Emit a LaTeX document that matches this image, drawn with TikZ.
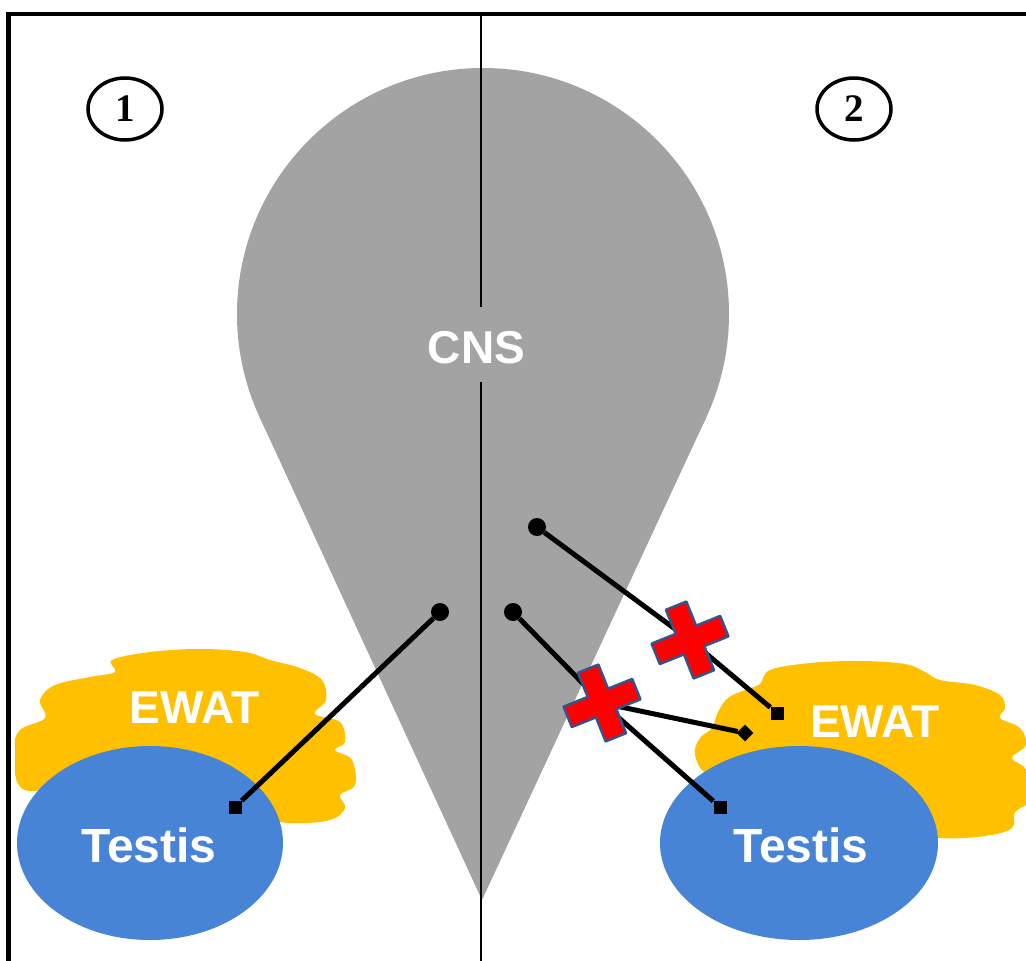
\documentclass[tikz,border=0pt]{standalone}
\usepackage{fontspec}
\newfontfamily\lsans{Liberation Sans}
\newfontfamily\lserif{Liberation Serif}
\usetikzlibrary{shapes.geometric}
\definecolor{cnsgray}{RGB}{163,163,163}
\definecolor{ewatc}{RGB}{255,192,0}
\definecolor{testisc}{RGB}{72,132,214}
\definecolor{xblue}{RGB}{52,84,140}
\tikzset{
  lab/.style={text=white, font=\lsans\bfseries\fontsize{46}{50}\selectfont, inner sep=0pt, anchor=base},
  tlab/.style={lab, font=\lsans\bfseries\fontsize{48}{52}\selectfont},
  num/.style={draw, ellipse, line width=3.5pt, minimum width=74pt, minimum height=62pt, inner sep=0pt,
              font=\lserif\bfseries\fontsize{39}{42}\selectfont},
  enddot/.style={circle, fill=black, minimum size=18pt, inner sep=0pt},
  endsq/.style={rectangle, fill=black, minimum size=13pt, inner sep=0pt},
  conn/.style={line width=5pt},
  divider/.style={line width=2pt},
  frameline/.style={line width=4.5pt},
  redx/.pic={\draw[fill=red, draw=xblue, line width=2.5pt, line join=round, rotate=22]
     (-37,-11) -- (-11,-11) -- (-11,-37) -- (11,-37) -- (11,-11) -- (37,-11) -- (37,11)
     -- (11,11) -- (11,37) -- (-11,37) -- (-11,11) -- (-37,11) -- cycle;}
}
\begin{document}
\begin{tikzpicture}[x=1pt,y=-1pt]
\useasboundingbox (0,0) rectangle (1026,961);
\fill[white] (0,0) rectangle (1026,961);

% CNS teardrop
\fill[cnsgray] (483,314) circle[radius=246];
\fill[cnsgray] (482,900) -- (259.7,417.3) -- (483,314) -- (706.3,417.3) -- cycle;

% frame
\coordinate (fbl) at (8.5,961);
\coordinate (ftl) at (8.5,14);
\coordinate (ftr) at (1026,14);
\draw[frameline] (fbl) -- (ftl) -- (ftr);

% divider
\coordinate (vtop) at (481,16);
\coordinate (vgapt) at (481,307);
\coordinate (vgapb) at (481,382);
\coordinate (vbot) at (481,961);
\draw[divider] (vtop) -- (vgapt);
\draw[divider] (vgapb) -- (vbot);
\node[lab] (cns) at (476.5,363) {CNS};

% circled numbers
\node[num] (n1) at (125,109) {1};
\node[num] (n2) at (854,109) {2};

% left EWAT cloud
\fill[ewatc] plot[smooth cycle, tension=0.6] coordinates {
 (15,750) (20,730) (45,718) (40,700) (55,685) (90,677) (115,672) (112,660) (150,652)
 (200,649) (245,652) (270,660) (300,668) (322,680) (326,700) (315,714) (340,722)
 (345,742) (335,750) (352,760) (355,785) (340,795) (345,808) (330,820) (290,823)
 (250,815) (200,790) (100,780) (25,790)};
% right EWAT cloud
\fill[ewatc] plot[smooth cycle, tension=0.6] coordinates {
 (695,755) (700,738) (712,728) (718,712) (728,698) (745,690) (760,684) (770,670)
 (810,663) (860,661) (905,664) (925,672) (940,680) (975,685) (1000,695) (1005,708)
 (1000,718) (1020,728) (1026,745) (1012,758) (1026,770) (1030,800) (1015,812)
 (1012,828) (985,836) (940,838) (900,830) (850,790) (760,775) (710,775)};

% testis ellipses
\fill[testisc] (150,843) ellipse[x radius=133, y radius=97];
\fill[testisc] (799,843) ellipse[x radius=139, y radius=97];

% labels
\node[lab] (ewat1) at (194.5,723) {EWAT};
\node[lab] (ewat2) at (875,737) {EWAT};
\node[tlab] (tes1) at (149,862) {Testis};
\node[tlab] (tes2) at (801,862) {Testis};

% connector ends
\node[enddot] (a1) at (440,612) {};
\node[enddot] (b1) at (513,612) {};
\node[enddot] (c1) at (537,527) {};
\node[endsq] (a2) at (235,807) {};
\node[endsq] (b2) at (720,807) {};
\node[endsq, rotate=45, minimum size=12pt] (b3) at (745,733) {};
\node[endsq] (c2) at (777,713) {};
\coordinate (x1) at (690,640);
\coordinate (x2) at (602,703);

% connectors
\draw[conn] (a1) -- (a2);
\draw[conn] (c1) -- (x1) -- (c2);
\draw[conn] (b1) -- (x2);
\draw[conn] (x2) -- (b3);
\draw[conn] (x2) -- (b2);

% blocked marks
\pic at (x1) {redx};
\pic at (x2) {redx};
\end{tikzpicture}
\end{document}
